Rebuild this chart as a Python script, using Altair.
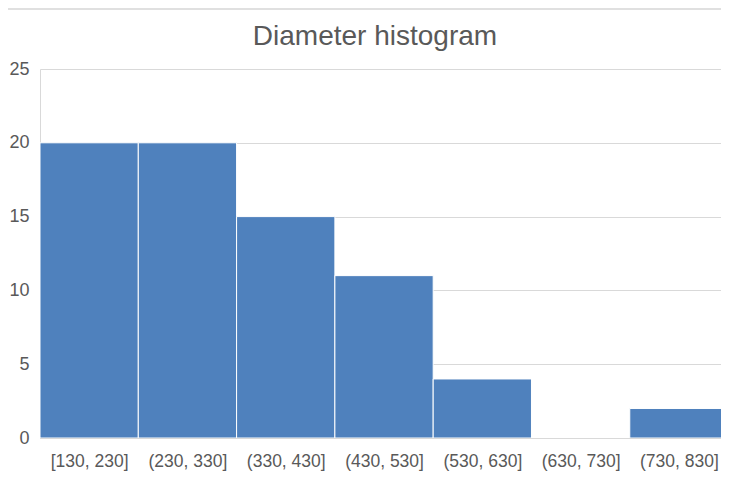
import altair as alt
import pandas as pd

bin_labels = ["[130, 230]", "(230, 330]", "(330, 430]", "(430, 530]",
              "(530, 630]", "(630, 730]", "(730, 830]"]
bin_starts = [130, 230, 330, 430, 530, 630, 730]
bin_ends = [230, 330, 430, 530, 630, 730, 830]
counts = [20, 20, 15, 11, 4, 0, 2]
chart_title = "Diameter histogram"

df = pd.DataFrame({"start": bin_starts, "end": bin_ends, "count": counts,
                   "label": bin_labels})
df["mid"] = (df["start"] + df["end"]) / 2

label_map = "{" + ", ".join(f"'{int(m)}': '{l}'" for m, l in zip(df["mid"], bin_labels)) + "}"

# plot area 681 px wide; last bin is clipped at the right edge as in the reference
W, H = 681, 369
x_scale = alt.Scale(domain=[130, 822.8], nice=False, zero=False)

bars = alt.Chart(df).mark_rect(color="#4f81bd", stroke="white", strokeWidth=1, clip=True).encode(
    x=alt.X("start:Q", scale=x_scale,
            axis=alt.Axis(values=list(df["mid"]), labelExpr=f"{label_map}[toString(datum.value)]",
                          title=None, grid=False, ticks=False, domain=True,
                          domainColor="#d9d9d9", labelFontSize=17.5, labelColor="#595959",
                          labelFont="Liberation Sans", labelPadding=14)),
    x2="end:Q",
    y=alt.Y("count:Q", scale=alt.Scale(domain=[0, 25], nice=False),
            axis=alt.Axis(values=[0, 5, 10, 15, 20, 25], title=None, ticks=False,
                          domain=True, domainColor="#d9d9d9", gridColor="#d9d9d9",
                          labelFontSize=18, labelColor="#595959",
                          labelFont="Liberation Sans", labelPadding=11)),
    y2=alt.datum(0),
)

title = alt.Chart(pd.DataFrame({"t": [chart_title]})).mark_text(
    fontSize=28, font="Liberation Sans", color="#595959", baseline="alphabetic", align="center"
).encode(text="t:N", x=alt.value(335), y=alt.value(-24))

border = alt.Chart(pd.DataFrame({"y": [0]})).mark_rule(color="#e0e0e0", strokeWidth=2).encode(
    x=alt.value(-32), x2=alt.value(W), y=alt.value(-60)
)

chart = alt.layer(bars, title, border).properties(
    width=W, height=H,
    autosize=alt.AutoSizeParams(type="none"),
    padding={"left": 32, "top": 61, "right": 0, "bottom": 38},
).configure_view(stroke=None)

chart.save("out.html", embed_options={"renderer": "svg", "actions": False})
